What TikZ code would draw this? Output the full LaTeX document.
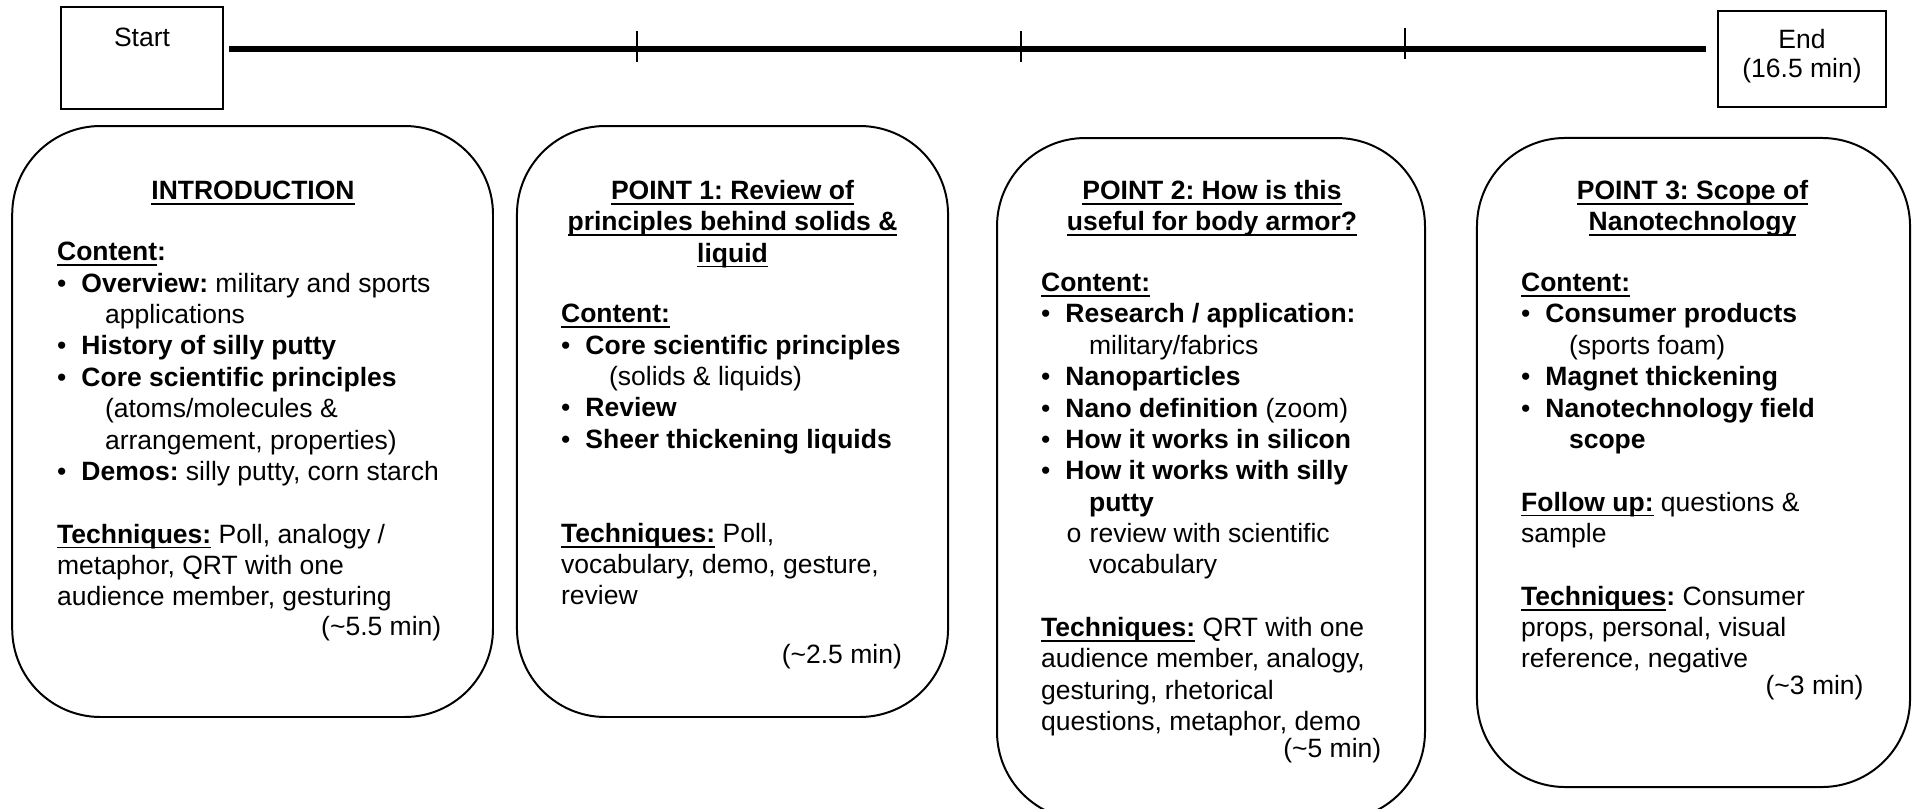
\documentclass[tikz,border=0pt]{standalone}
\usepackage{fontspec}
\setmainfont{Liberation Sans}
\newfontfamily\subfont{Liberation Mono}
\frenchspacing
\newsavebox{\ulinbox}
\newcommand{\ulin}[1]{\sbox{\ulinbox}{#1}\rlap{\rule[-2.4pt]{\wd\ulinbox}{0.85pt}}\usebox{\ulinbox}}
\newcommand{\bul}[1]{\makebox[11pt][l]{\textbullet}#1}
\newcommand{\cont}[1]{\hspace*{21.7pt}#1}
\newcommand{\subbul}[1]{\hspace*{11.3pt}\makebox[10.7pt][l]{\subfont o}#1}

\begin{document}
\begin{tikzpicture}[x=0.4528pt,y=-0.4528pt,
    every node/.style={font=\fontsize{12}{14.2}\selectfont},
    endbox/.style={draw, line width=0.9pt, inner sep=0pt},
    sectbox/.style={draw, line width=0.9pt, rounded corners=40pt, inner sep=0pt},
    sectitle/.style={anchor=north, align=center, inner sep=0pt, font=\fontsize{12}{14.2}\selectfont\bfseries},
    sectbody/.style={anchor=north west, align=left, inner sep=0pt},
    timelabel/.style={anchor=east, inner sep=0pt}]
  \useasboundingbox (0,0) rectangle (1914,809);

  % Inicio y fin
  \node[endbox, minimum width=73.4pt, minimum height=46.05pt,
    label={[anchor=north, inner sep=0pt, yshift=-9.4pt]north:Start}] (start) at (142,58.2) {};
  \node[endbox, minimum width=76.1pt, minimum height=43.5pt,
    label={[anchor=north, align=center, inner sep=0pt, yshift=-8.4pt, font=\fontsize{12}{13.1}\selectfont]north:End\\(16.5 min)}] (end) at (1802,59) {};

  % Linea de tiempo
  \coordinate (t0) at (229,49.3);
  \coordinate (t1) at (1706,49.3);
  \draw[line width=2.7pt] (t0) -- (t1);
  \foreach \x/\top in {637/31,1021/31,1405/28}
    \draw[line width=0.6pt] (\x,\top) -- ++(0,30.7);

  % Recuadros
  \node[sectbox, minimum width=217.7pt, minimum height=267.6pt] (intro) at (252.6,421.5) {};
  \node[sectbox, minimum width=195.2pt, minimum height=267.6pt] (pointone) at (732.5,421.5) {};
  \node[sectbox, minimum width=193.8pt, minimum height=308.8pt] (pointtwo) at (1211,479) {};
  \node[sectbox, minimum width=196.1pt, minimum height=293.9pt] (pointthree) at (1693.5,462.5) {};

  % Introduccion
  \node[sectitle] (introtitle) at (253,177) {\strut\ulin{INTRODUCTION}};
  \node[sectbody] (introbody) at (56.7,238.5) {\strut\textbf{\ulin{Content}:}\\
    \bul{\textbf{Overview:} military and sports}\\
    \cont{applications}\\
    \bul{\textbf{History of silly putty}}\\
    \bul{\textbf{Core scientific principles}}\\
    \cont{(atoms/molecules \&}\\
    \cont{arrangement, properties)}\\
    \bul{\textbf{Demos:} silly putty, corn starch}\\[14.2pt]
    \textbf{\ulin{Techniques:}} Poll, analogy /\\
    metaphor, QRT with one\\
    audience member, gesturing};
  \node[timelabel] (introtime) at (441.7,629) {(\textasciitilde5.5 min)};

  % Punto 1
  \node[sectitle] (onetitle) at (732.5,177) {\strut\ulin{POINT 1: Review of}\\
    \ulin{principles behind solids \&}\\
    \ulin{liquid}};
  \node[sectbody] (onebody) at (560.7,300.3) {\strut\textbf{\ulin{Content:}}\\
    \bul{\textbf{Core scientific principles}}\\
    \cont{(solids \& liquids)}\\
    \bul{\textbf{Review}}\\
    \bul{\textbf{Sheer thickening liquids}}\\[28.4pt]
    \textbf{\ulin{Techniques:}} Poll,\\
    vocabulary, demo, gesture,\\
    review};
  \node[timelabel] (onetime) at (902.3,657) {(\textasciitilde2.5 min)};

  % Punto 2
  \node[sectitle] (twotitle) at (1212,177) {\strut\ulin{POINT 2: How is this}\\
    \ulin{useful for body armor?}};
  \node[sectbody] (twobody) at (1040.7,269.2) {\strut\textbf{\ulin{Content:}}\\
    \bul{\textbf{Research / application:}}\\
    \cont{military/fabrics}\\
    \bul{\textbf{Nanoparticles}}\\
    \bul{\textbf{Nano definition} (zoom)}\\
    \bul{\textbf{How it works in silicon}}\\
    \bul{\textbf{How it works with silly}}\\
    \cont{\textbf{putty}}\\
    \subbul{review with scientific}\\
    \cont{vocabulary}\\[14.2pt]
    \textbf{\ulin{Techniques:}} QRT with one\\
    audience member, analogy,\\
    gesturing, rhetorical\\
    questions, metaphor, demo};
  \node[timelabel] (twotime) at (1381.7,751) {(\textasciitilde5 min)};

  % Punto 3
  \node[sectitle] (threetitle) at (1692.5,177) {\strut\ulin{POINT 3: Scope of}\\
    \ulin{Nanotechnology}};
  \node[sectbody] (threebody) at (1520.7,269.2) {\strut\textbf{\ulin{Content:}}\\
    \bul{\textbf{Consumer products}}\\
    \cont{(sports foam)}\\
    \bul{\textbf{Magnet thickening}}\\
    \bul{\textbf{Nanotechnology field}}\\
    \cont{\textbf{scope}}\\[14.2pt]
    \textbf{\ulin{Follow up:}} questions \&\\
    sample\\[14.2pt]
    \textbf{\ulin{Techniques}:} Consumer\\
    props, personal, visual\\
    reference, negative};
  \node[timelabel] (threetime) at (1864,688) {(\textasciitilde3 min)};
\end{tikzpicture}
\end{document}
